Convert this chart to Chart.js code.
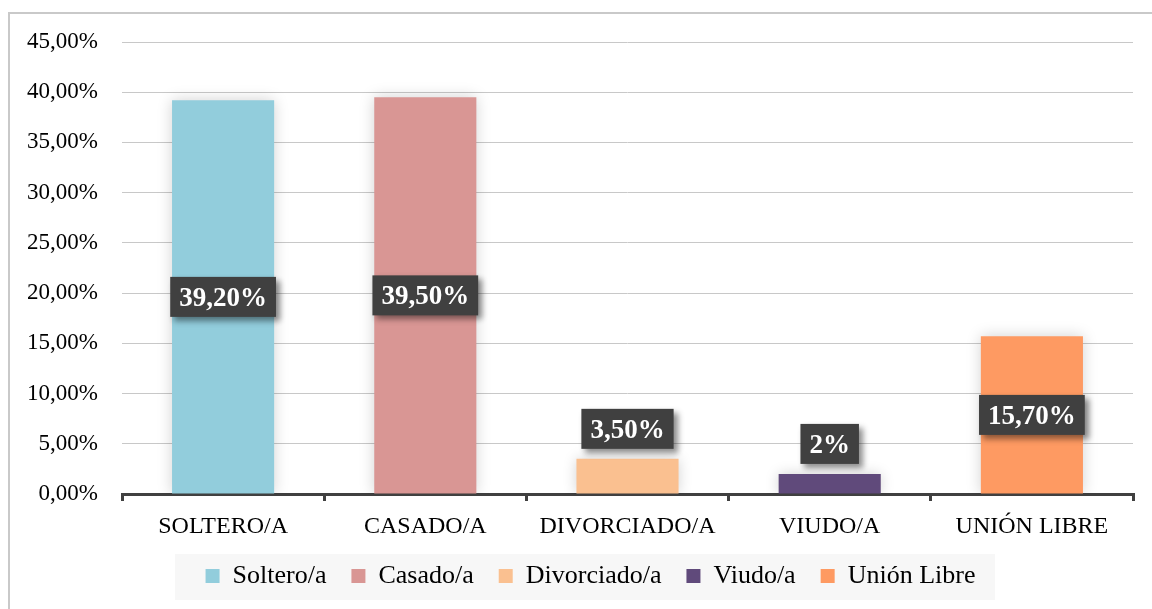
<!DOCTYPE html>
<html>
<head>
<meta charset="utf-8">
<script src="https://cdn.jsdelivr.net/npm/chart.js@4"></script>
<style>
  html, body { margin: 0; padding: 0; background: #fff; overflow: hidden; }
  #wrap { position: relative; width: 1152px; height: 609px; }
  #frame { position: absolute; left: 8px; top: 12px; width: 1200px; height: 700px; border: 2px solid #c9c9c9; }
  canvas { position: absolute; left: 0; top: 0; }
</style>
</head>
<body>
<div id="wrap">
  <div id="frame"></div>
  <canvas id="chart" width="1152" height="609"></canvas>
</div>
<script>
const categories = ['SOLTERO/A', 'CASADO/A', 'DIVORCIADO/A', 'VIUDO/A', 'UNIÓN LIBRE'];
const legendNames = ['Soltero/a', 'Casado/a', 'Divorciado/a', 'Viudo/a', 'Unión Libre'];
const values = [39.2, 39.5, 3.5, 2, 15.7];
const valueLabels = ['39,20%', '39,50%', '3,50%', '2%', '15,70%'];
const barColors = ['#92cddc', '#d99694', '#fac090', '#604a7b', '#fe9a62'];

const serif = '"Liberation Serif", "Times New Roman", serif';

// soft glow behind bars
const barShadow = {
  id: 'barShadow',
  beforeDatasetsDraw(chart) {
    const ctx = chart.ctx;
    ctx.save();
    ctx.shadowColor = 'rgba(0,0,0,0.18)';
    ctx.shadowBlur = 14;
  },
  afterDatasetsDraw(chart) {
    chart.ctx.restore();
  }
};

// dark label boxes
const valueBoxes = {
  id: 'valueBoxes',
  afterDatasetsDraw(chart) {
    const ctx = chart.ctx;
    const meta = chart.getDatasetMeta(0);
    ctx.save();
    ctx.font = 'bold 27px ' + serif;
    ctx.textAlign = 'center';
    ctx.textBaseline = 'middle';
    meta.data.forEach((bar, i) => {
      const txt = valueLabels[i];
      const w = ctx.measureText(txt).width + 18;
      const h = 40;
      let cy;
      if (values[i] >= 10) cy = (bar.y + bar.base) / 2;
      else cy = bar.y - 10 - h / 2;
      const x0 = bar.x - w / 2, y0 = cy - h / 2;
      ctx.save();
      ctx.shadowColor = 'rgba(0,0,0,0.45)';
      ctx.shadowBlur = 6;
      ctx.shadowOffsetX = 4;
      ctx.shadowOffsetY = 4;
      ctx.fillStyle = '#404040';
      ctx.fillRect(x0, y0, w, h);
      ctx.restore();
      ctx.fillStyle = '#ffffff';
      ctx.fillText(txt, bar.x, cy + 2);
    });
    ctx.restore();
  }
};

// light panel behind the legend, legend nudged right like the original
const legendPanel = {
  id: 'legendPanel',
  afterLayout(chart) {
    const lg = chart.legend;
    if (lg) { lg.left += 24; lg.right += 24; }
  },
  beforeDraw(chart) {
    const ctx = chart.ctx;
    ctx.save();
    ctx.fillStyle = '#f7f7f7';
    ctx.fillRect(175, 554, 820, 46);
    ctx.restore();
  }
};

new Chart(document.getElementById('chart'), {
  type: 'bar',
  data: {
    labels: categories,
    datasets: [{
      data: values,
      backgroundColor: barColors,
      borderWidth: 0,
      categoryPercentage: 1,
      barPercentage: 0.505
    }]
  },
  options: {
    responsive: false,
    animation: false,
    layout: { padding: { top: 42, right: 19, left: 0, bottom: 10 } },
    scales: {
      y: {
        min: 0,
        max: 45,
        afterFit(scale) { scale.width = 122; },
        ticks: {
          stepSize: 5,
          padding: 24,
          color: '#000',
          font: { family: serif, size: 23 },
          callback: v => v.toFixed(2).replace('.', ',') + '%'
        },
        grid: { color: '#c8c8c8', lineWidth: 1, drawTicks: false },
        border: { display: false }
      },
      x: {
        afterFit(scale) { scale.height = 44; },
        ticks: {
          color: '#000',
          padding: 11,
          font: { family: serif, size: 24 }
        },
        grid: {
          offset: true,
          drawOnChartArea: false,
          drawTicks: true,
          tickLength: 7,
          color: '#404040',
          lineWidth: 3
        },
        border: { display: true, color: '#404040', width: 3 }
      }
    },
    plugins: {
      tooltip: { enabled: false },
      legend: {
        position: 'bottom',
        labels: {
          color: '#000',
          font: { family: serif, size: 26 },
          boxWidth: 14,
          boxHeight: 14,
          padding: 25,
          generateLabels: () => legendNames.map((n, i) => ({
            text: n,
            fillStyle: barColors[i],
            strokeStyle: barColors[i],
            lineWidth: 0,
            index: i
          }))
        }
      }
    }
  },
  plugins: [legendPanel, barShadow, valueBoxes]
});
</script>
</body>
</html>
